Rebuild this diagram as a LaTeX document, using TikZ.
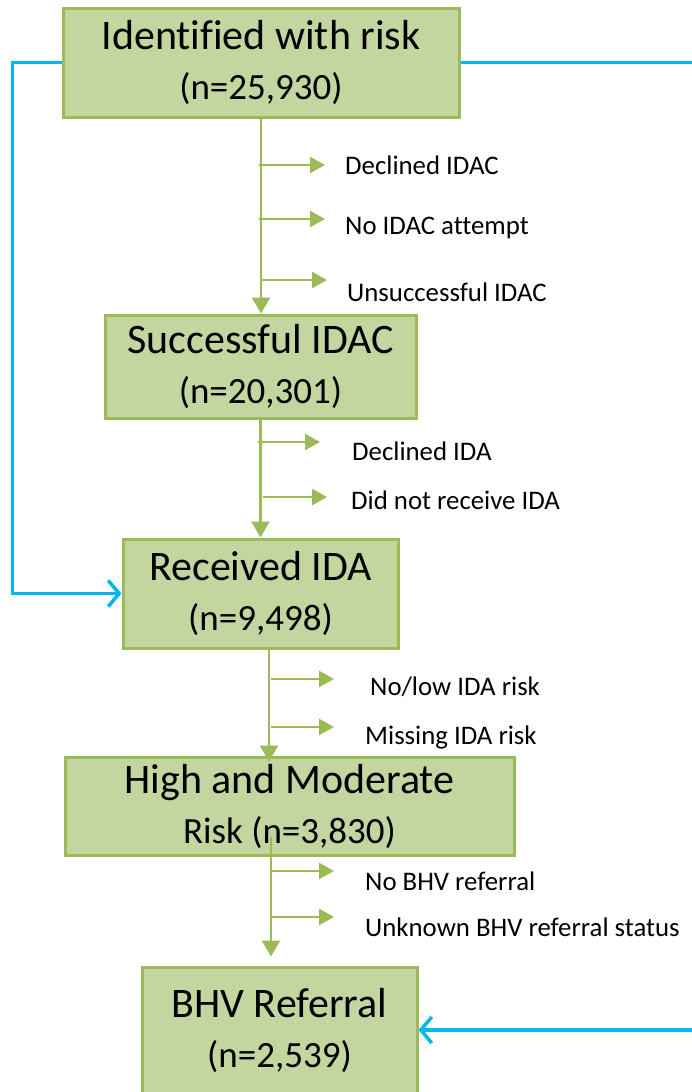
\documentclass[tikz,border=0pt]{standalone}
\usepackage{fontspec}
\setmainfont{Carlito}[Ligatures=NoCommon]
\usetikzlibrary{arrows.meta}

\definecolor{boxfill}{HTML}{C4D6A0}
\definecolor{boxline}{HTML}{9BBB59}
\definecolor{skipblue}{HTML}{00B7EB}

\newcommand{\stagecount}[1]{{\fontsize{37}{50}\selectfont #1}}

\begin{document}
\begin{tikzpicture}[x=1pt,y=-1pt,
	stage/.style={draw=boxline, line width=3pt, fill=boxfill, align=center, inner sep=0pt, font=\fontsize{42}{50}\selectfont},
	flow/.style={draw=boxline, line width=2.5pt, -{Triangle[length=16pt,width=18pt]}},
	branch/.style={draw=boxline, line width=2.5pt, -{Triangle[length=15pt,width=16pt]}},
	exit/.style={anchor=west, inner sep=0pt, font=\fontsize{26.8}{30}\selectfont},
	skip/.style={draw=skipblue, line width=3.5pt, -{Straight Barb[length=11pt,width=26pt,line width=3.5pt]}}]
	\useasboundingbox (0,0) rectangle (691,1092);

	% stages
	\node[stage, minimum width=396pt, minimum height=109pt] (b1) at (261,62.5) {Identified with risk\\\stagecount{(n=25,930)}};
	\node[stage, minimum width=311pt, minimum height=103pt] (b2) at (260.5,366.5) {Successful IDAC\\\stagecount{(n=20,301)}};
	\node[stage, minimum width=275pt, minimum height=109pt] (b3) at (260.5,593.5) {Received IDA\\\stagecount{(n=9,498)}};
	\node[stage, minimum width=449pt, minimum height=98pt] (b4) at (289.5,806) {High and Moderate\\\stagecount{Risk (n=3,830)}};
	\node[stage, minimum width=275pt, minimum height=126pt] (b5) at (279.5,1030) {BHV Referral\\\stagecount{(n=2,539)}};

	% exits
	\node[exit] (d1) at (345,165) {Declined IDAC};
	\node[exit] (d2) at (345,228) {No IDAC attempt};
	\node[exit] (d3) at (347,292) {Unsuccessful IDAC};
	\node[exit] (d4) at (352,451) {Declined IDA};
	\node[exit] (d5) at (351,500) {Did not receive IDA};
	\node[exit] (d6) at (370,687) {No/low IDA risk};
	\node[exit] (d7) at (365,737) {Missing IDA risk};
	\node[exit] (d8) at (365,881) {No BHV referral};
	\node[exit] (d9) at (365,927) {Unknown BHV referral status};

	% main flow
	\draw[flow] (b1.south) -- (b1.south |- b2.north);
	\draw[flow] (b2.south) -- (b3.north);
	\draw[flow, shorten >=-6pt] ([xshift=8.5pt]b3.south) -- ([xshift=8.5pt]b3.south |- b4.north);
	\draw[flow, shorten >=9pt] ([xshift=-18.5pt,yshift=20pt]b4.south) -- ([xshift=-8.5pt]b5.north);

	\foreach \n/\xa/\y/\gap in {1/259/165/20, 2/259/219/20, 3/261/280/20, 4/258/442/32, 5/263/497/24, 6/271/679/36, 7/271/727/31, 8/271/871/31, 9/271/917/31}{
		\coordinate (s\n) at (\xa,\y);
		\draw[branch, shorten >=\gap pt] (s\n) -- (d\n.west |- s\n);
	}

	% direct paths
	\coordinate (edgeR1) at (700,62.5);
	\coordinate (edgeR5) at (700,1030);
	\draw[skip] (b1.west) -- ++(-49,0) |- (b3.west);
	\draw[draw=skipblue, line width=3.5pt] (b1.east) -- (edgeR1);
	\draw[skip] (edgeR5) -- (b5.east);
\end{tikzpicture}
\end{document}
